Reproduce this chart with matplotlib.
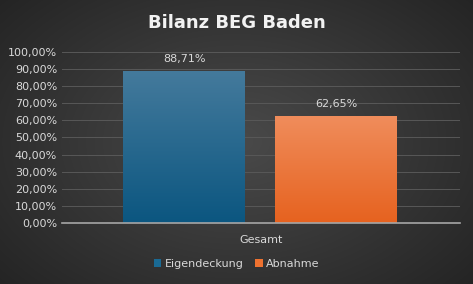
import numpy as np
import matplotlib.pyplot as plt
from matplotlib.patches import Rectangle
from matplotlib.ticker import FuncFormatter

# data
category = "Gesamt"
series = ["Eigendeckung", "Abnahme"]
values = [88.71, 62.65]
top_colors = ["#447a9c", "#f08d5c"]
bottom_colors = ["#0b5680", "#e6621f"]
legend_colors = ["#1a6a94", "#ee7230"]

fig = plt.figure(figsize=(4.73, 2.84), dpi=100)

# radial background gradient
bg = fig.add_axes([0, 0, 1, 1], zorder=-10)
yy, xx = np.mgrid[-1:1:300j, -1:1:500j]
r = np.sqrt((xx * 0.85) ** 2 + (yy * 0.75) ** 2)
shade = np.clip(0.29 - 0.13 * r, 0.13, 0.3)
bg.imshow(np.dstack([shade, shade, shade]), extent=[0, 1, 0, 1], aspect='auto')
bg.axis('off')

ax = fig.add_axes([0.131, 0.215, 0.841, 0.602])
ax.patch.set_alpha(0)

width = 0.306
offsets = [-0.193, 0.189]
grad = np.linspace(0, 1, 256).reshape(-1, 1)
for i, v in enumerate(values):
    x0 = offsets[i] - width / 2
    c_top = np.array(plt.matplotlib.colors.to_rgb(top_colors[i]))
    c_bot = np.array(plt.matplotlib.colors.to_rgb(bottom_colors[i]))
    img = c_bot[None, None, :] * (1 - grad[:, :, None]) + c_top[None, None, :] * grad[:, :, None]
    im = ax.imshow(img, extent=[x0, x0 + width, 0, v], origin='lower', aspect='auto', zorder=3)
    rect = Rectangle((x0, 0), width, v, transform=ax.transData, facecolor='none', edgecolor='none')
    ax.add_patch(rect)
    im.set_clip_path(rect)
    ax.text(offsets[i], v + 4, f"{v:.2f}%".replace('.', ','), ha='center', va='bottom',
            color='#d9d9d9', fontsize=8)
ax.set_xlim(-0.5, 0.5)
ax.set_ylim(0, 100)

ax.set_yticks(np.arange(0, 101, 10))
ax.yaxis.set_major_formatter(FuncFormatter(lambda y, p: f"{y:.2f}%".replace('.', ',')))
ax.grid(axis='y', color='#585858', linewidth=0.7, zorder=0)
ax.set_axisbelow(True)
ax.set_xticks([0])
ax.set_xticklabels([category])
ax.tick_params(axis='both', length=0, colors='#d9d9d9', labelsize=8)
ax.tick_params(axis='x', pad=9)
for s in ['top', 'right', 'left']:
    ax.spines[s].set_visible(False)
ax.spines['bottom'].set_color('#a6a6a6')
ax.spines['bottom'].set_linewidth(1.2)
ax.spines['bottom'].set_zorder(4)

handles = [Rectangle((0, 0), 1, 1, facecolor=c) for c in legend_colors]
fig.legend(handles, series, loc='center', bbox_to_anchor=(0.5, 0.07), ncol=2, frameon=False,
           fontsize=8, labelcolor='#d9d9d9', handlelength=0.7, handleheight=0.7,
           handletextpad=0.3, columnspacing=1.0)

fig.text(0.5, 0.918, "Bilanz BEG Baden", ha='center', va='center', color='#f2f2f2',
         fontsize=13, fontweight='bold')

fig.savefig("out.png", dpi=100)
